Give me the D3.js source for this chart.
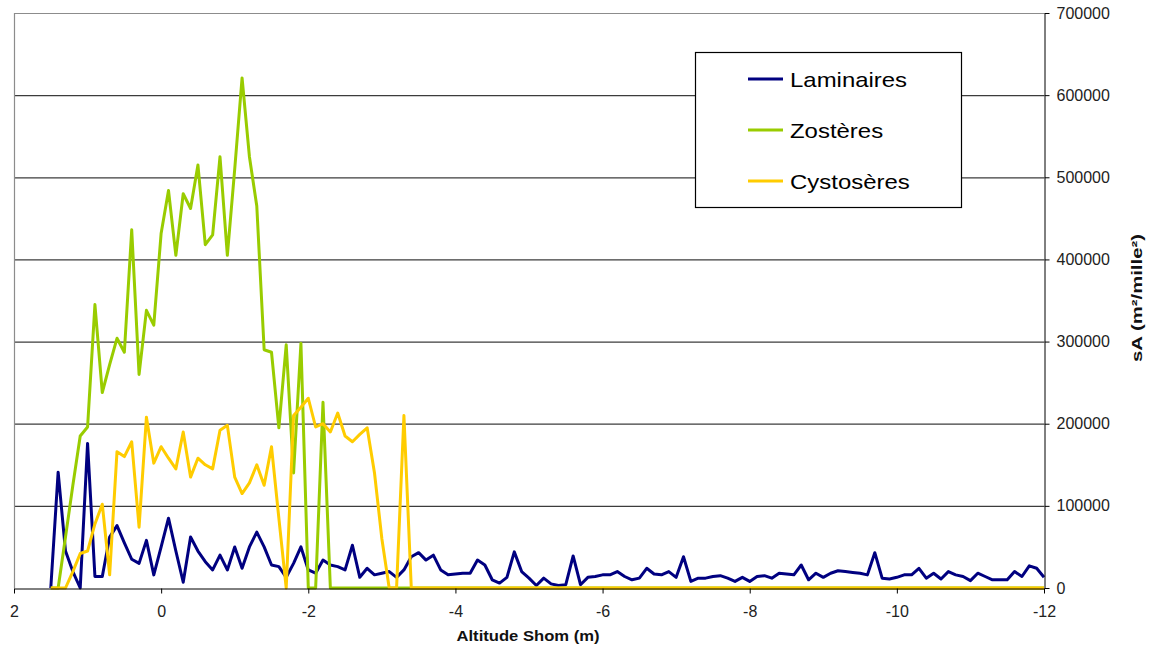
<!DOCTYPE html>
<html>
<head>
<meta charset="utf-8">
<script src="https://cdn.jsdelivr.net/npm/d3@7"></script>
<style>
  body { margin: 0; background: #fff; }
  text { font-family: Arial, "Liberation Sans", sans-serif; }
</style>
</head>
<body>
<svg id="chart" width="1155" height="650"></svg>
<script>
// Altitude Shom (m), one sample every 0.1 m
const altitudes = [
  1.5, 1.4, 1.3, 1.2, 1.1, 1.0, 0.9, 0.8, 0.7, 0.6,
  0.5, 0.4, 0.3, 0.2, 0.1, 0.0, -0.1, -0.2, -0.3, -0.4,
  -0.5, -0.6, -0.7, -0.8, -0.9, -1.0, -1.1, -1.2, -1.3, -1.4,
  -1.5, -1.6, -1.7, -1.8, -1.9, -2.0, -2.1, -2.2, -2.3, -2.4,
  -2.5, -2.6, -2.7, -2.8, -2.9, -3.0, -3.1, -3.2, -3.3, -3.4,
  -3.5, -3.6, -3.7, -3.8, -3.9, -4.0, -4.1, -4.2, -4.3, -4.4,
  -4.5, -4.6, -4.7, -4.8, -4.9, -5.0, -5.1, -5.2, -5.3, -5.4,
  -5.5, -5.6, -5.7, -5.8, -5.9, -6.0, -6.1, -6.2, -6.3, -6.4,
  -6.5, -6.6, -6.7, -6.8, -6.9, -7.0, -7.1, -7.2, -7.3, -7.4,
  -7.5, -7.6, -7.7, -7.8, -7.9, -8.0, -8.1, -8.2, -8.3, -8.4,
  -8.5, -8.6, -8.7, -8.8, -8.9, -9.0, -9.1, -9.2, -9.3, -9.4,
  -9.5, -9.6, -9.7, -9.8, -9.9, -10.0, -10.1, -10.2, -10.3, -10.4,
  -10.5, -10.6, -10.7, -10.8, -10.9, -11.0, -11.1, -11.2, -11.3, -11.4,
  -11.5, -11.6, -11.7, -11.8, -11.9, -12.0
];

// sA (m²/mille²)
const laminaires = [
  0, 141000, 45000, 20000, 0, 176000, 14000, 14000, 62000, 76000,
  55000, 35000, 30000, 58000, 16000, 50000, 85000, 45000, 7000, 62000,
  45000, 32000, 22000, 40000, 22000, 50000, 24000, 50000, 68000, 50000,
  28000, 26000, 13000, 30000, 50000, 22000, 18000, 34000, 28000, 26000,
  22000, 52000, 13000, 24000, 16000, 18000, 20000, 13000, 22000, 38000,
  43000, 34000, 40000, 22000, 16000, 17000, 18000, 18000, 34000, 28000,
  10000, 6000, 13000, 44000, 20000, 12000, 3000, 12000, 5000, 3000,
  4000, 39000, 4000, 13000, 14000, 16000, 16000, 20000, 14000, 10000,
  12000, 24000, 17000, 16000, 20000, 13000, 38000, 8000, 12000, 12000,
  14000, 15000, 12000, 8000, 13000, 8000, 14000, 15000, 12000, 18000,
  17000, 16000, 28000, 10000, 18000, 13000, 18000, 21000, 20000, 19000,
  18000, 16000, 43000, 12000, 11000, 13000, 16000, 16000, 24000, 12000,
  18000, 11000, 20000, 16000, 14000, 9000, 18000, 14000, 10000, 10000,
  10000, 20000, 14000, 27000, 24000, 13000
];

const zosteres = [
  0, 0, 62000, 125000, 185000, 196000, 345000, 238000, 272000, 304000,
  287000, 436000, 260000, 338000, 320000, 432000, 484000, 405000, 480000, 462000,
  515000, 418000, 430000, 525000, 405000, 510000, 621000, 525000, 465000, 290000,
  287000, 195000, 296000, 140000, 298000, 0, 0, 226000, 0, 0,
  0, 0, 0, 0, 0, 0, 0, 0, 0, 0,
  0, 0, 0, 0, 0, 0, 0, 0, 0, 0,
  0, 0, 0, 0, 0, 0, 0, 0, 0, 0,
  0, 0, 0, 0, 0, 0, 0, 0, 0, 0,
  0, 0, 0, 0, 0, 0, 0, 0, 0, 0,
  0, 0, 0, 0, 0, 0, 0, 0, 0, 0,
  0, 0, 0, 0, 0, 0, 0, 0, 0, 0,
  0, 0, 0, 0, 0, 0, 0, 0, 0, 0,
  0, 0, 0, 0, 0, 0, 0, 0, 0, 0,
  0, 0, 0, 0, 0, 0
];

const cystoseres = [
  0, 0, 0, 20000, 42000, 45000, 78000, 102000, 16000, 166000,
  160000, 178000, 74000, 208000, 152000, 172000, 158000, 145000, 190000, 135000,
  158000, 150000, 145000, 192000, 198000, 135000, 115000, 128000, 150000, 125000,
  172000, 85000, 0, 210000, 220000, 231000, 196000, 200000, 190000, 213000,
  185000, 178000, 187000, 195000, 140000, 60000, 0, 0, 210000, 0,
  0, 0, 0, 0, 0, 0, 0, 0, 0, 0,
  0, 0, 0, 0, 0, 0, 0, 0, 0, 0,
  0, 0, 0, 0, 0, 0, 0, 0, 0, 0,
  0, 0, 0, 0, 0, 0, 0, 0, 0, 0,
  0, 0, 0, 0, 0, 0, 0, 0, 0, 0,
  0, 0, 0, 0, 0, 0, 0, 0, 0, 0,
  0, 0, 0, 0, 0, 0, 0, 0, 0, 0,
  0, 0, 0, 0, 0, 0, 0, 0, 0, 0,
  0, 0, 0, 0, 0, 0
];

const seriesNames = ["Laminaires", "Zostères", "Cystosères"];
const seriesColors = ["#000080", "#99cc00", "#ffcc00"];
const xTicks = [2, 0, -2, -4, -6, -8, -10, -12];
const yTicks = [0, 100000, 200000, 300000, 400000, 500000, 600000, 700000];

const svg = d3.select("#chart");
const plotLeft = 14, plotRight = 1044, plotTop = 13, plotBottom = 588;

const x = d3.scaleLinear().domain([2, -12]).range([plotLeft, plotRight]);
const y = d3.scaleLinear().domain([0, 700000]).range([plotBottom, plotTop]);

svg.append("rect").attr("width", 1155).attr("height", 650).attr("fill", "#fff");

// horizontal gridlines
svg.append("g").selectAll("line")
  .data(yTicks.filter(d => d > 0 && d < 700000))
  .enter().append("line")
    .attr("x1", plotLeft).attr("x2", plotRight)
    .attr("y1", d => y(d) + 0.5).attr("y2", d => y(d) + 0.5)
    .attr("stroke", "#3c3c3c").attr("stroke-width", 1.2);

// plot border (top + left)
svg.append("path")
  .attr("d", `M${plotLeft + 0.5},${plotBottom}V${plotTop + 0.5}H${plotRight}`)
  .attr("fill", "none").attr("stroke", "#8c8c8c").attr("stroke-width", 1.2);

// series lines
const allSeries = [laminaires, zosteres, cystoseres];
const line = d3.line()
  .x((d, i) => x(altitudes[i]))
  .y(d => y(d));

svg.append("g").selectAll("path")
  .data(allSeries)
  .enter().append("path")
    .attr("d", line)
    .attr("fill", "none")
    .attr("stroke", (d, i) => seriesColors[i])
    .attr("stroke-width", 3)
    .attr("stroke-linejoin", "round");

// plain hyphen for negatives, like the original
const plainFormat = d => String(d);

// bottom axis
const xAxis = svg.append("g")
  .attr("transform", `translate(0,${plotBottom + 0.5})`)
  .call(d3.axisBottom(x).tickValues(xTicks).tickSize(5).tickSizeOuter(0).tickPadding(12).tickFormat(plainFormat));
xAxis.select(".domain").attr("stroke", "#000");
xAxis.selectAll("text").attr("font-size", 16).attr("fill", "#222").style("font-family", "Arial, 'Liberation Sans', sans-serif");

// right axis
const yAxis = svg.append("g")
  .attr("transform", `translate(${plotRight + 0.5},0)`)
  .call(d3.axisRight(y).tickValues(yTicks).tickSize(5).tickSizeOuter(0).tickPadding(7).tickFormat(plainFormat));
yAxis.select(".domain").attr("stroke", "#000");
yAxis.selectAll("text").attr("font-size", 16).attr("fill", "#222").style("font-family", "Arial, 'Liberation Sans', sans-serif");

// axis titles
svg.append("text")
  .attr("x", 528).attr("y", 641)
  .attr("text-anchor", "middle")
  .attr("font-size", 15).attr("font-weight", "bold").attr("fill", "#111")
  .attr("textLength", 143).attr("lengthAdjust", "spacingAndGlyphs")
  .text("Altitude Shom (m)");

svg.append("text")
  .attr("transform", "translate(1142,298) rotate(-90)")
  .attr("text-anchor", "middle")
  .attr("font-size", 15).attr("font-weight", "bold").attr("fill", "#111")
  .attr("textLength", 128).attr("lengthAdjust", "spacingAndGlyphs")
  .text("sA (m²/mille²)");

// legend
const legend = svg.append("g");
legend.append("rect")
  .attr("x", 695.5).attr("y", 52.5).attr("width", 266).attr("height", 155)
  .attr("fill", "#fff").attr("stroke", "#000").attr("stroke-width", 1.2);

const items = legend.selectAll("g.item")
  .data(seriesNames)
  .enter().append("g")
    .attr("class", "item")
    .attr("transform", (d, i) => `translate(748,${79 + i * 51})`);

items.append("line")
  .attr("x1", 0).attr("x2", 35)
  .attr("stroke", (d, i) => seriesColors[i])
  .attr("stroke-width", 3);

items.append("text")
  .attr("x", 42).attr("dy", "0.36em")
  .attr("font-size", 21).attr("fill", "#000")
  .text(d => d)
  .each(function() {
    const len = this.getComputedTextLength();
    d3.select(this).attr("textLength", len * 1.14).attr("lengthAdjust", "spacingAndGlyphs");
  });
</script>
</body>
</html>
